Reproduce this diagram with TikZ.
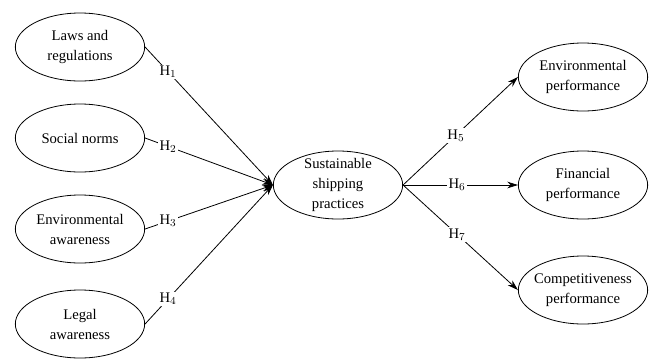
\documentclass[tikz,border=0pt]{standalone}
\usepackage{fontspec}
\setmainfont{Liberation Serif}
\usetikzlibrary{positioning}
\usetikzlibrary{shapes}
\usetikzlibrary{arrows.meta}
\tikzset{
	-{Stealth[length=8pt,width=5pt]},
	every path/.style={line width=0.6pt},
	construct/.style={ellipse, draw, minimum width=97pt, minimum height=51pt, inner sep=-3pt, align=center, font=\fontsize{11}{15}\selectfont},
	hyp/.style={fill=white, inner sep=1pt, font=\fontsize{11}{13}\selectfont}
}

\begin{document}
\begin{tikzpicture}[x=0.75pt, y=-0.75pt]
	\useasboundingbox (0,0) rectangle (658,358);
	% Drivers
	\node (laws) [construct] at (80,47) {Laws and\\regulations};
	\node (norms) [construct] at (80,138) {Social norms};
	\node (envaw) [construct] at (80,229) {Environmental\\awareness};
	\node (legal) [construct] at (80,324) {Legal\\awareness};
	% Mediator
	\node (ssp) [construct] at (338,185) {Sustainable\\shipping\\practices};
	% Outcomes
	\node (envperf) [construct] at (583,77) {Environmental\\performance};
	\node (finperf) [construct] at (583,185) {Financial\\performance};
	\node (comp) [construct] at (583,290) {Competitiveness\\performance};
	
	\path (laws.east) edge node[hyp, pos=0.18] {H$_1$} (ssp.west);
	\path (norms.east) edge node[hyp, pos=0.18] {H$_2$} (ssp.west);
	\path (envaw.east) edge node[hyp, pos=0.18] {H$_3$} (ssp.west);
	\path (legal.east) edge node[hyp, pos=0.18] {H$_4$} (ssp.west);
	\path (ssp.east) edge node[hyp, pos=0.46] {H$_5$} (envperf.west);
	\path (ssp.east) edge node[hyp, pos=0.47] {H$_6$} (finperf.west);
	\path (ssp.east) edge node[hyp, pos=0.47] {H$_7$} (comp.west);
	
\end{tikzpicture}
\end{document}
